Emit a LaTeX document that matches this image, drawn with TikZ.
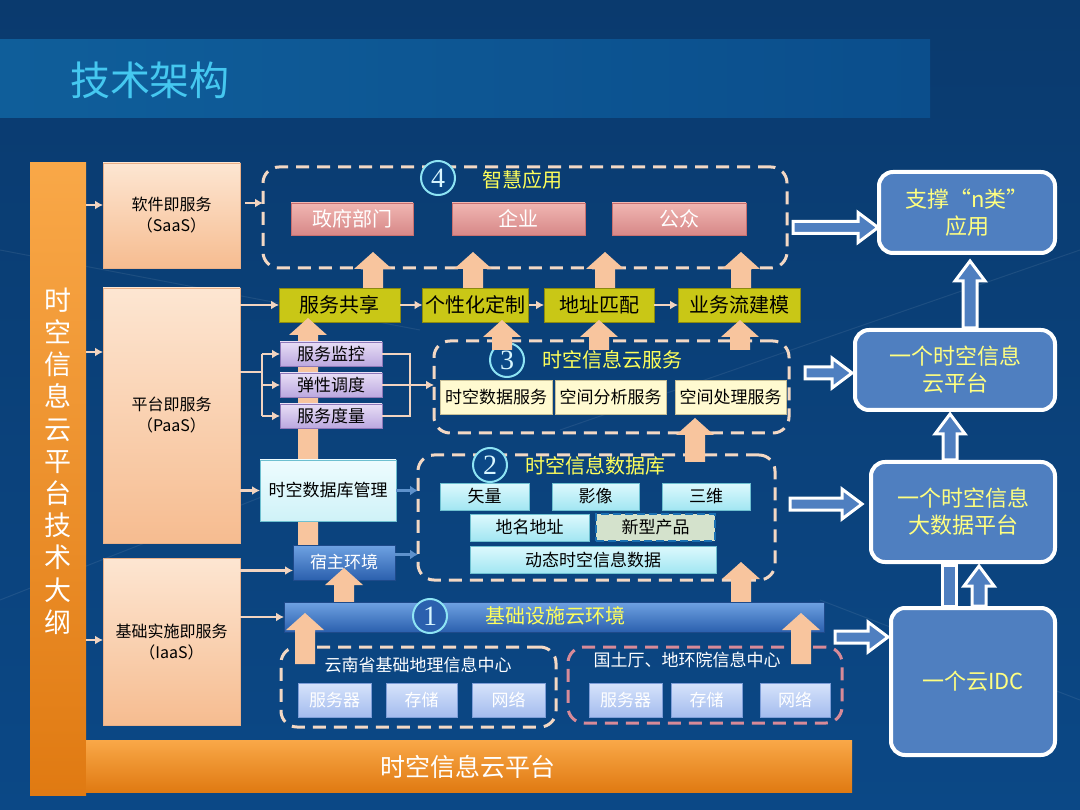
\documentclass[tikz,border=0pt]{standalone}
\usepackage{fontspec}
\setmainfont{Noto Sans CJK SC}
\newfontfamily\numfont{Liberation Serif}
\usetikzlibrary{calc,arrows.meta}
\definecolor{bgtop}{HTML}{0A3A6E}
\definecolor{bgbot}{HTML}{0B4886}
\definecolor{band}{HTML}{0F5E9A}
\definecolor{bandR}{HTML}{0B4E8C}
\definecolor{titlec}{HTML}{45C8F0}
\definecolor{orangeA}{HTML}{F9A848}
\definecolor{orangeB}{HTML}{E07A12}
\definecolor{peachA}{HTML}{FDE6D2}
\definecolor{peachB}{HTML}{F6BC90}
\definecolor{peachE}{HTML}{E9B088}
\definecolor{arrowpeach}{HTML}{F8C59E}
\definecolor{pinkA}{HTML}{F0B6B2}
\definecolor{pinkB}{HTML}{D78888}
\definecolor{pinkE}{HTML}{C87070}
\definecolor{olive}{HTML}{C9C716}
\definecolor{oliveE}{HTML}{8C8A10}
\definecolor{lavA}{HTML}{E8DEF6}
\definecolor{lavB}{HTML}{BBA8DF}
\definecolor{lavE}{HTML}{8E78B8}
\definecolor{cream}{HTML}{FFFAD0}
\definecolor{creamE}{HTML}{C8C098}
\definecolor{cyanA}{HTML}{DDF9FD}
\definecolor{cyanB}{HTML}{A2E6F2}
\definecolor{cyanE}{HTML}{6EC0D0}
\definecolor{paleA}{HTML}{EEFCFE}
\definecolor{paleB}{HTML}{CFF2F8}
\definecolor{ylw}{HTML}{FFFF5A}
\definecolor{ylwT}{HTML}{FFFF80}
\definecolor{blueA}{HTML}{6FA2E2}
\definecolor{blueB}{HTML}{2B60AE}
\definecolor{blueE}{HTML}{1E4A8A}
\definecolor{lbA}{HTML}{D6E3FB}
\definecolor{lbB}{HTML}{A4BCEE}
\definecolor{lbE}{HTML}{7E9ED8}
\definecolor{rboxc}{HTML}{4F7FC0}
\definecolor{dashc}{HTML}{F3D8C4}
\definecolor{dashpink}{HTML}{D88A98}
\definecolor{steel}{HTML}{5E92CC}
\definecolor{linkc}{HTML}{F2D4C0}
\definecolor{newfill}{HTML}{D4E2CC}
\definecolor{newedge}{HTML}{1A70B2}
\definecolor{numedge}{HTML}{8EE4F4}
\definecolor{numtext}{HTML}{D8F6FF}
\newcommand\fsz[2]{\fontsize{#1}{#2}\selectfont}
\newcommand\bigup[2]{\fill[arrowpeach] let \p1=(#1),\p2=(#2) in
  (\x1-10pt,\y1) -- (\x1-10pt,\y2-17pt) -- (\x1-19pt,\y2-17pt) -- (\x1,\y2)
  -- (\x1+19pt,\y2-17pt) -- (\x1+10pt,\y2-17pt) -- (\x1+10pt,\y1) -- cycle;}
\newcommand\hollowH[2]{\draw[hollow] let \p1=(#1),\p2=(#2) in
  (\x1,\y1+6pt) -- (\x2-20pt,\y1+6pt) -- (\x2-20pt,\y1+15pt) -- (\x2,\y1)
  -- (\x2-20pt,\y1-15pt) -- (\x2-20pt,\y1-6pt) -- (\x1,\y1-6pt) -- cycle;}
\newcommand\hollowV[2]{\draw[hollow] let \p1=(#1),\p2=(#2) in
  (\x1-7pt,\y1) -- (\x1-7pt,\y2-20pt) -- (\x1-15pt,\y2-20pt) -- (\x1,\y2)
  -- (\x1+15pt,\y2-20pt) -- (\x1+7pt,\y2-20pt) -- (\x1+7pt,\y1) -- cycle;}
\tikzset{
  every node/.style={inner sep=0pt, outer sep=0pt},
  peachbox/.style={draw=peachE, top color=peachA, bottom color=peachB, minimum width=137pt, font=\fsz{16}{21}, align=center, text=black},
  dashbox/.style={draw=dashc, line width=3pt, dash pattern=on 13pt off 8pt, rounded corners=16pt},
  pinkbox/.style={top color=pinkA, bottom color=pinkB, draw=pinkE, minimum height=32pt, font=\fsz{20}{22}, text=white},
  olivebox/.style={fill=olive, draw=oliveE, minimum height=34pt, font=\fsz{20}{22}, text=black},
  lavbox/.style={top color=lavA, bottom color=lavB, draw=lavE, minimum width=102pt, minimum height=24pt, font=\fsz{17}{19}, text=black},
  creambox/.style={fill=cream, draw=creamE, minimum height=34pt, font=\fsz{17}{19}, text=black},
  cyanbox/.style={top color=cyanA, bottom color=cyanB, draw=cyanE, minimum height=27pt, font=\fsz{17}{19}, text=black},
  lbbox/.style={top color=lbA, bottom color=lbB, draw=lbE, minimum height=34pt, font=\fsz{17}{19}, text=white},
  rbox/.style={fill=rboxc, draw=white, line width=4pt, rounded corners=14pt, font=\fsz{22}{27}, text=ylwT, align=center},
  boxtitle/.style={text=ylw, font=\fsz{20}{22}},
  numc/.style={circle, draw=numedge, line width=2pt, fill=bgbot, minimum size=34pt, font=\numfont\fsz{28}{28}, text=numtext},
  linkline/.style={draw=linkc, line width=2.5pt},
  link/.style={linkline, -{Latex[length=8pt,width=9pt]}},
  steelarrow/.style={draw=steel, line width=3pt, -{Latex[length=8pt,width=10pt]}},
  hollow/.style={fill=rboxc, draw=white, line width=3pt, line join=miter},
}
\begin{document}
\begin{tikzpicture}[x=1pt,y=-1pt]
\useasboundingbox (0,0) rectangle (1080,810);
% background
\shade[top color=bgtop, bottom color=bgbot] (0,0) rectangle (1080,810);
\draw[white, opacity=0.08, line width=1pt] (0,250) -- (420,330) (560,430) -- (1080,250) (0,600) -- (330,470) (820,600) -- (1080,700);
\shade[left color=band, right color=bandR] (0,40) rectangle (930,118);
\node[text=titlec, font=\fsz{40}{44}] (title) at (150,80) {技术架构};

% dashed group boxes
\node[dashbox, minimum width=524pt, minimum height=101pt] (smart) at (525,217.5) {};
\node[dashbox, minimum width=355pt, minimum height=92pt] (cloud) at (611.5,387) {};
\node[dashbox, minimum width=357pt, minimum height=125pt] (db) at (596.5,517.5) {};
\node[dashbox, minimum width=275pt, minimum height=80pt] (yn) at (418.5,687) {};
\node[dashbox, draw=dashpink, minimum width=274pt, minimum height=76pt] (gtt) at (705,685) {};

% group titles
\node[numc] (n4) at (438,178) {4};
\node[boxtitle] (t4) at (522,180) {智慧应用};
\node[numc] (n3) at (507,360) {3};
\node[boxtitle] (t3) at (612,360) {时空信息云服务};
\node[numc] (n2) at (490,465) {2};
\node[boxtitle] (t2) at (595,466) {时空信息数据库};

% smart applications
\node[pinkbox, minimum width=122pt] (gov) at (352,219) {政府部门};
\node[pinkbox, minimum width=133pt] (ent) at (518.5,219) {企业};
\node[pinkbox, minimum width=134pt] (pub) at (679,219) {公众};

% upper peach arrows
\bigup{373,292}{373,252}
\bigup{473,292}{473,252}
\bigup{605,292}{605,252}
\bigup{741,292}{741,252}

% olive boxes
\node[olivebox, minimum width=121pt] (ss) at (339.5,305) {服务共享};
\node[olivebox, minimum width=106pt] (gx) at (475.5,305) {个性化定制};
\node[olivebox, minimum width=110pt] (dz) at (599,305) {地址匹配};
\node[olivebox, minimum width=122pt] (yw) at (739,305) {业务流建模};
\draw[link] (ss.east) -- (gx.west);
\draw[link] (gx.east) -- (dz.west);
\draw[link] (dz.east) -- (yw.west);

% lower peach arrows
\bigup{502,350}{502,320}
\bigup{599,350}{599,320}
\bigup{740,350}{740,320}
\bigup{308,548}{308,318}

% monitoring boxes
\node[lavbox] (mon) at (331,354) {服务监控};
\node[lavbox] (ela) at (331,385) {弹性调度};
\node[lavbox] (mea) at (331,416) {服务度量};

% cloud service sub boxes
\node[creambox, minimum width=112pt] (cs1) at (496,397) {时空数据服务};
\node[creambox, minimum width=111pt] (cs2) at (610.5,397) {空间分析服务};
\node[creambox, minimum width=111pt] (cs3) at (730.5,397) {空间处理服务};
\bigup{695,462}{695,418}

% db management & host
\node[top color=paleA, bottom color=paleB, draw=cyanE, minimum width=136pt, minimum height=61pt, font=\fsz{17}{19}] (dbm) at (328,490.5) {时空数据库管理};
\node[top color=blueA, bottom color=blueB, draw=blueE, minimum width=102pt, minimum height=35pt, font=\fsz{17}{19}, text=white] (host) at (344,562.5) {宿主环境};
\draw[steelarrow] (dbm.east) -- (db.west |- dbm.east);
\draw[steelarrow] ($(host.east)+(0,-8)$) -- ($(db.west |- host.east)+(0,-8)$);

% database sub boxes
\node[cyanbox, minimum width=89pt] (d1) at (484.5,496.5) {矢量};
\node[cyanbox, minimum width=87pt] (d2) at (595.5,496.5) {影像};
\node[cyanbox, minimum width=88pt] (d3) at (706,496.5) {三维};
\node[cyanbox, minimum width=119pt] (d4) at (529.5,527.5) {地名地址};
\node[fill=newfill, draw=newedge, line width=2.5pt, dash pattern=on 8pt off 4pt, minimum width=119pt, minimum height=27pt, font=\fsz{17}{19}] (d5) at (655.5,527.5) {新型产品};
\node[cyanbox, minimum width=246pt] (d6) at (593,559.5) {动态时空信息数据};
\bigup{741,603}{741,562}
\bigup{344,603}{344,568}

% infrastructure
\node[top color=blueA, bottom color=blueB, draw=blueE, minimum width=540pt, minimum height=30pt] (infra) at (554,617) {};
\node[numc, fill=blueB] (n1) at (430,616) {1};
\node[boxtitle] (t1) at (555,616) {基础设施云环境};
\node[text=white, font=\fsz{17}{19}] (ynt) at (418,665) {云南省基础地理信息中心};
\node[text=white, font=\fsz{17}{19}] (gtt t) at (687,660) {国土厅、地环院信息中心};
\node[lbbox, minimum width=73pt] (y1) at (334.5,700) {服务器};
\node[lbbox, minimum width=71pt] (y2) at (421.5,700) {存储};
\node[lbbox, minimum width=73pt] (y3) at (508.5,700) {网络};
\node[lbbox, minimum width=73pt] (g1) at (625.5,700) {服务器};
\node[lbbox, minimum width=71pt] (g2) at (706.5,700) {存储};
\node[lbbox, minimum width=70pt] (g3) at (795,700) {网络};
\bigup{305,664}{305,613}
\bigup{801,664}{801,613}

% left column
\node[top color=orangeA, bottom color=orangeB, minimum width=56pt, minimum height=632pt] (lb) at (58,479) {};
\node[text=white, font=\fsz{27}{32.2}, align=center] (lbt) at (58,461) {时\\空\\信\\息\\云\\平\\台\\技\\术\\大\\纲};
\node[top color=orangeA, bottom color=orangeB, minimum width=766pt, minimum height=52pt] (bb) at (469,766) {};
\node[text=white, font=\fsz{25}{28}] (bbt) at (468,767) {时空信息云平台};
\node[peachbox, minimum height=105pt] (saas) at (171.5,215.5) {软件即服务\\（SaaS）};
\node[peachbox, minimum height=255pt] (paas) at (171.5,415.5) {平台即服务\\（PaaS）};
\node[peachbox, minimum height=167pt] (iaas) at (171.5,641.5) {基础实施即服务\\（IaaS）};

% left connectors
\draw[link] ($(lb.east)+(0,-274)$) -- ($(saas.west)+(0,-10.5)$);
\draw[link] ($(lb.east)+(0,-127)$) -- ($(paas.west)+(0,-63.5)$);
\draw[link] ($(lb.east)+(0,161)$) -- ($(iaas.west)+(0,-1.5)$);
\draw[link] ($(saas.east)+(5,-12.5)$) -- ($(smart.west)+(0,-14.5)$);
\draw[link] (paas.east |- ss.west) -- (ss.west);
\coordinate (br) at (262,372);
\draw[linkline] (paas.east |- br) -- (br);
\draw[linkline] (br |- mon.west) -- (br |- mea.west);
\draw[link] (br |- mon.west) -- (mon.west);
\draw[link] (br |- ela.west) -- (ela.west);
\draw[link] (br |- mea.west) -- (mea.west);
\coordinate (br2) at (410,385);
\draw[linkline] (mon.east) -- (br2 |- mon.east) -- (br2 |- mea.east) -- (mea.east);
\draw[linkline] (ela.east) -- (br2);
\draw[link] (br2) -- (cloud.west |- br2);
\draw[link] (paas.east |- dbm.west) -- (dbm.west);
\draw[link] ($(iaas.east |- host.west)+(0,8)$) -- ($(host.west)+(0,8)$);
\draw[link] (iaas.east |- infra.west) -- (infra.west);

% right column
\node[rbox, minimum width=176pt, minimum height=81pt] (r1) at (967,212.5) {支撑“n类”\\应用};
\node[rbox, minimum width=200pt, minimum height=80pt] (r2) at (955,370) {一个时空信息\\云平台};
\node[rbox, minimum width=184pt, minimum height=100pt] (r3) at (963,512) {一个时空信息\\大数据平台};
\node[rbox, minimum width=164pt, minimum height=147pt] (r4) at (973,681.5) {一个云IDC};
\hollowV{$(r2.north)+(15,-2)$}{$(r1.south)+(0,8)$}
\hollowV{$(r3.north)+(-13,-2)$}{$(r2.south)+(0,4)$}
\draw[hollow] let \p1=($(r4.north)+(-24,-2)$),\p2=($(r3.south)+(0,3)$) in (\x1-7pt,\y1) rectangle (\x1+7pt,\y2);
\hollowV{$(r4.north)+(6,-2)$}{$(r3.south)+(0,4)$}
\hollowH{$(smart.east)+(6,10)$}{$(r1.west)+(-1,0)$}
\hollowH{$(cloud.east)+(16,-14)$}{$(r2.west)+(-3,0)$}
\hollowH{$(db.east)+(15,-13.5)$}{$(r3.west)+(-9,0)$}
\hollowH{$(gtt.north east)+(-7,-10)$}{$(r4.west)+(-3,0)$}
\end{tikzpicture}
\end{document}
